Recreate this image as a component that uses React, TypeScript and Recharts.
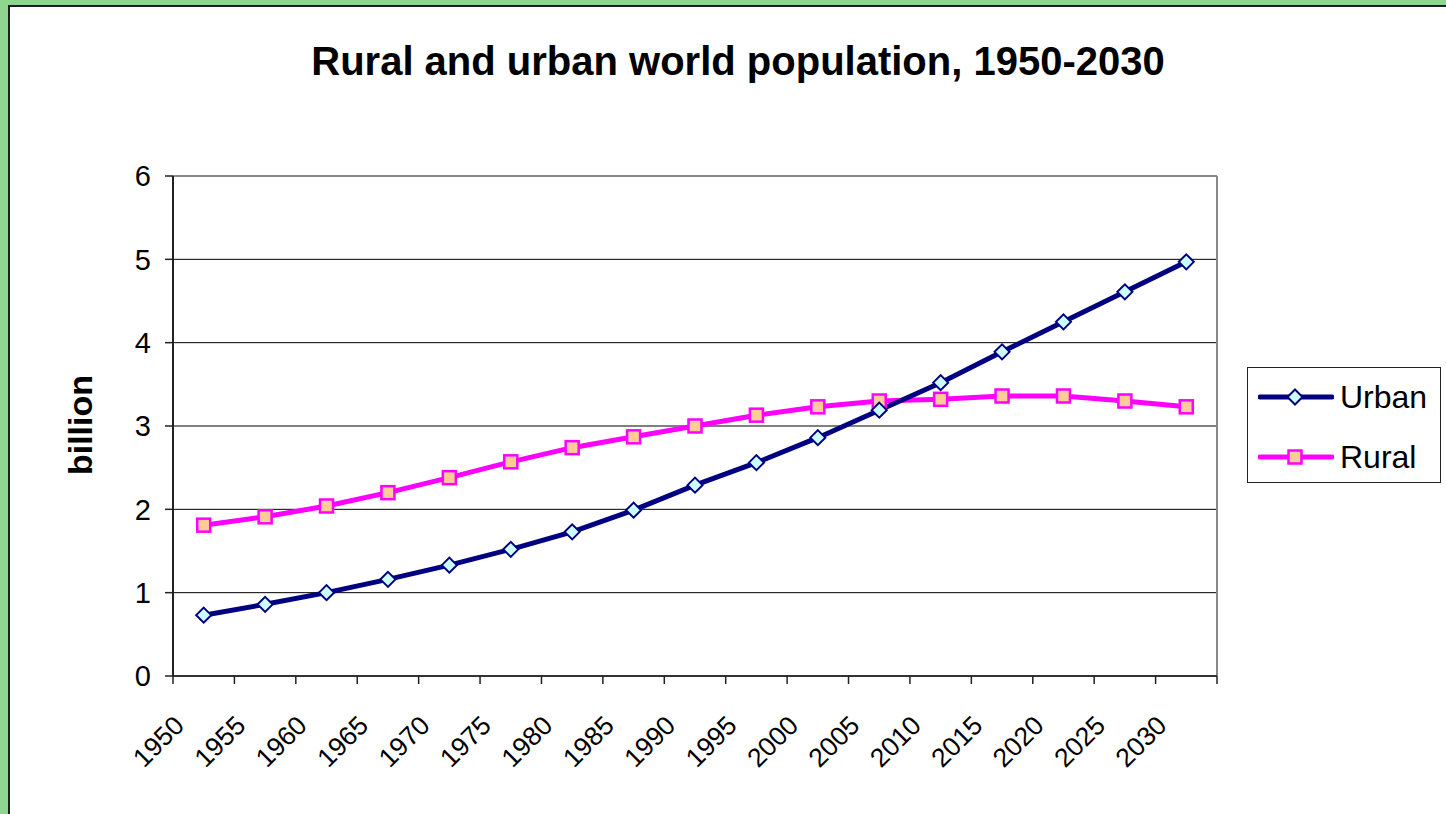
import React from 'react';
import { LineChart, Line, XAxis, YAxis, CartesianGrid, ReferenceLine } from 'recharts';

// values (billions)
const years = ['1950', '1955', '1960', '1965', '1970', '1975', '1980', '1985', '1990', '1995', '2000', '2005', '2010', '2015', '2020', '2025', '2030'];
const urban = [0.73, 0.86, 1.0, 1.16, 1.33, 1.52, 1.73, 1.99, 2.29, 2.56, 2.86, 3.19, 3.52, 3.89, 4.25, 4.61, 4.97];
const rural = [1.81, 1.91, 2.04, 2.2, 2.38, 2.57, 2.74, 2.87, 3.0, 3.13, 3.23, 3.3, 3.32, 3.36, 3.36, 3.3, 3.23];
const yTicks = [0, 1, 2, 3, 4, 5, 6];

const data = years.map((year, i) => ({ year, urban: urban[i], rural: rural[i] }));

const FONT = '"Liberation Sans", Arial, sans-serif';
const PLOT_LEFT = 173;
const PLOT_RIGHT = 1217;
const HALF_BAND = (PLOT_RIGHT - PLOT_LEFT) / years.length / 2;

const URBAN_LINE = '#000080';
const URBAN_FILL = '#ccffff';
const RURAL_LINE = '#ff00ff';
const RURAL_FILL = '#ffcc99';

const diamond = (cx: number, cy: number, r: number) =>
  `M${cx},${cy - r}L${cx + r},${cy}L${cx},${cy + r}L${cx - r},${cy}Z`;

const UrbanDot = (props: any) => {
  const { cx, cy, index } = props;
  if (cx == null || cy == null) return <g key={`u${index}`} />;
  return <path key={`u${index}`} d={diamond(cx, cy, 7.5)} fill={URBAN_FILL} stroke={URBAN_LINE} strokeWidth={2} />;
};

const RuralDot = (props: any) => {
  const { cx, cy, index } = props;
  if (cx == null || cy == null) return <g key={`r${index}`} />;
  return <rect key={`r${index}`} x={cx - 6.5} y={cy - 6.5} width={13} height={13} fill={RURAL_FILL} stroke={RURAL_LINE} strokeWidth={2.5} />;
};

// Excel-style: tick marks between categories, labels rotated at the centre
const XTick = (props: any) => {
  const { x, y, payload } = props;
  const last = payload.value === years[years.length - 1];
  const tx = x - 18;
  const ty = y + 51;
  return (
    <g>
      <line x1={x - HALF_BAND} y1={y} x2={x - HALF_BAND} y2={y + 8} stroke="#222" strokeWidth={1.5} />
      {last && <line x1={x + HALF_BAND} y1={y} x2={x + HALF_BAND} y2={y + 8} stroke="#222" strokeWidth={1.5} />}
      <text x={tx} y={ty} textAnchor="end" transform={`rotate(-45 ${tx} ${ty})`} fontSize={26.5} fontFamily={FONT} fill="#000">
        {payload.value}
      </text>
    </g>
  );
};

const LegendRow = ({ label, color, marker, top }: { label: string; color: string; marker: React.ReactNode; top: number }) => (
  <div style={{ position: 'absolute', left: 10, top, display: 'flex', alignItems: 'center' }}>
    <svg width={76} height={24}>
      <line x1={2} y1={12} x2={74} y2={12} stroke={color} strokeWidth={5} strokeLinecap="round" />
      {marker}
    </svg>
    <span style={{ marginLeft: 6, fontSize: 32, fontFamily: FONT, color: '#000', lineHeight: '34px' }}>{label}</span>
  </div>
);

export default function App() {
  return (
    <div style={{ position: 'absolute', left: 0, top: 0, width: 1446, height: 814, background: '#8fd590', overflow: 'hidden' }}>
      <div style={{ position: 'absolute', left: 8, top: 5, width: 1500, height: 900, background: '#fff', borderTop: '2px solid #1e1e1e', borderLeft: '2px solid #1e1e1e' }} />

      <div style={{ position: 'absolute', left: 0, width: 1476, top: 41, textAlign: 'center', fontFamily: FONT, fontWeight: 'bold', fontSize: 40, lineHeight: '40px', color: '#000' }}>
        Rural and urban world population, 1950-2030
      </div>

      <div style={{ position: 'absolute', left: 80, top: 425, transform: 'translate(-50%, -50%) rotate(-90deg)', fontFamily: FONT, fontWeight: 'bold', fontSize: 34, color: '#000', whiteSpace: 'nowrap' }}>
        billion
      </div>

      <div style={{ position: 'absolute', left: 0, top: 0 }}>
        <LineChart width={1446} height={814} data={data} margin={{ top: 176, right: 229, bottom: 38, left: 113 }}>
          <CartesianGrid vertical={false} stroke="#000" strokeWidth={1} />
          <XAxis
            dataKey="year"
            scale="band"
            interval={0}
            height={100}
            tickSize={0}
            tickMargin={0}
            tickLine={false}
            axisLine={{ stroke: '#333', strokeWidth: 2 }}
            tick={<XTick />}
          />
          <YAxis
            domain={[0, 6]}
            ticks={yTicks}
            width={60}
            tickSize={8}
            tickMargin={14}
            axisLine={{ stroke: '#222', strokeWidth: 2 }}
            tickLine={{ stroke: '#222', strokeWidth: 1.5 }}
            tick={{ fontSize: 29, fontFamily: FONT, fill: '#000' }}
          />
          <ReferenceLine y={6} stroke="#888" strokeWidth={2} />
          <ReferenceLine x="2030" position="end" stroke="#888" strokeWidth={2} />
          <Line type="linear" dataKey="rural" stroke={RURAL_LINE} strokeWidth={5} dot={RuralDot} activeDot={false} isAnimationActive={false} />
          <Line type="linear" dataKey="urban" stroke={URBAN_LINE} strokeWidth={5} dot={UrbanDot} activeDot={false} isAnimationActive={false} />
        </LineChart>
      </div>

      <div style={{ position: 'absolute', left: 1247, top: 367, width: 192, height: 114, border: '1px solid #222', background: '#fff' }}>
        <LegendRow label="Urban" color={URBAN_LINE} top={12} marker={<path d={diamond(37, 12, 7.5)} fill={URBAN_FILL} stroke={URBAN_LINE} strokeWidth={2} />} />
        <LegendRow label="Rural" color={RURAL_LINE} top={72} marker={<rect x={30.5} y={5.5} width={13} height={13} fill={RURAL_FILL} stroke={RURAL_LINE} strokeWidth={2.5} />} />
      </div>
    </div>
  );
}
